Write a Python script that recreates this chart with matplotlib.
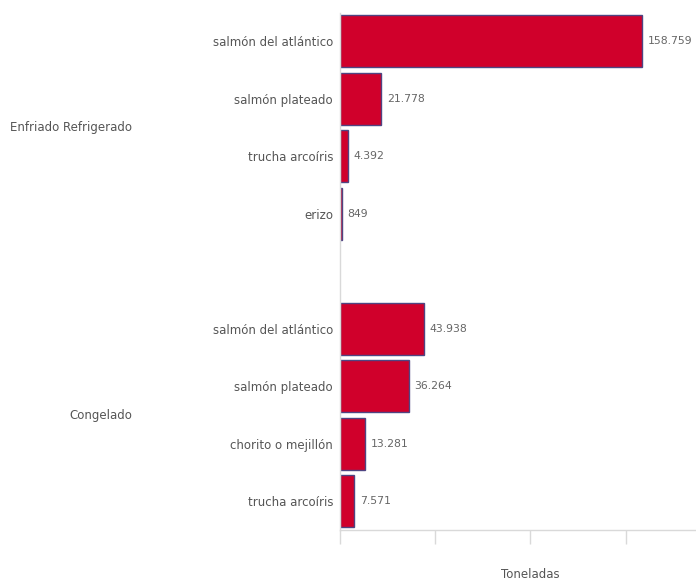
import matplotlib
matplotlib.use("Agg")
import matplotlib.pyplot as plt
import matplotlib.transforms as mtransforms

groups = ["Enfriado Refrigerado", "Congelado"]
species_enfriado = ["salmón del atlántico", "salmón plateado", "trucha arcoíris", "erizo"]
values_enfriado = [158759, 21778, 4392, 849]
species_congelado = ["salmón del atlántico", "salmón plateado", "chorito o mejillón", "trucha arcoíris"]
values_congelado = [43938, 36264, 13281, 7571]
xticks = [0, 50000, 100000, 150000]

# one blank slot between the two groups
labels = species_enfriado + [""] + species_congelado
values = values_enfriado + [None] + values_congelado
positions = list(range(len(labels)))

fig = plt.figure(figsize=(6.96, 5.81), dpi=100)
W, H = 696, 581
ax = fig.add_axes([340 / W, 1 - 530 / H, 356 / W, (530 - 12.5) / H])

for pos, val in zip(positions, values):
    if val is None:
        continue
    ax.barh(pos, val, height=0.9, color="#D0002B", edgecolor="#4F4582", linewidth=1.0)
    ax.text(val + 2800, pos, f"{val:,}".replace(",", "."), va="center", ha="left",
            fontsize=7.8, color="#666666")

ax.set_xlim(0, 187000)
ax.set_ylim(len(labels) - 0.5, -0.5)

ax.set_yticks([p for p, l in zip(positions, labels) if l])
ax.set_yticklabels([l for l in labels if l], fontsize=8.5, color="#555555")
ax.tick_params(axis="y", length=0, pad=5)

ax.set_xticks(xticks)
ax.set_xticklabels([])
ax.tick_params(axis="x", length=10, width=1, color="#d9d9d9", direction="out")

for side in ["top", "right"]:
    ax.spines[side].set_visible(False)
ax.spines["left"].set_color("#d9d9d9")
ax.spines["bottom"].set_color("#d9d9d9")
ax.spines["left"].set_linewidth(1)
ax.spines["bottom"].set_linewidth(1)

trans = mtransforms.blended_transform_factory(fig.transFigure, ax.transData)
ax.text(132 / W, 1.5, groups[0], transform=trans, ha="right", va="center",
        fontsize=8.5, color="#555555")
ax.text(132 / W, 6.5, groups[1], transform=trans, ha="right", va="center",
        fontsize=8.5, color="#555555")

fig.text(530 / W, 1 - 574 / H, "Toneladas", ha="center", va="center",
         fontsize=8.5, color="#555555")

fig.savefig("out.png", dpi=100)
plt.close(fig)
